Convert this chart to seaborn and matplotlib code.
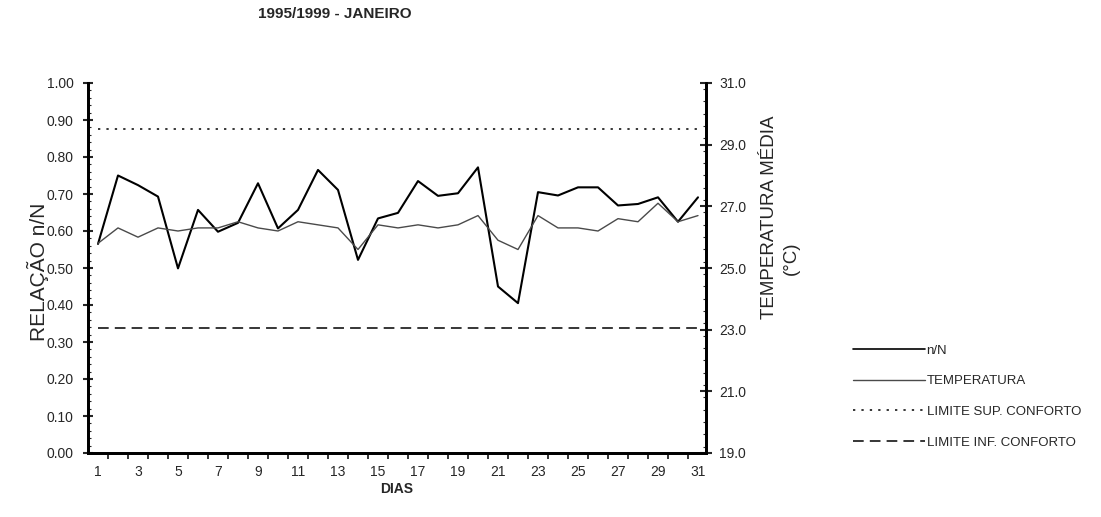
import matplotlib
matplotlib.use("Agg")
import matplotlib.pyplot as plt
from matplotlib.lines import Line2D
from matplotlib.ticker import MultipleLocator, FixedLocator
import seaborn as sns
import pandas as pd

# Dias do mês de janeiro
dias = list(range(1, 32))

# Relação n/N (insolação efetiva / insolação máxima) - média 1995/1999
relacao_nN = [0.565, 0.750, 0.724, 0.693, 0.499, 0.657, 0.598, 0.622, 0.729, 0.607,
              0.657, 0.765, 0.711, 0.522, 0.634, 0.649, 0.735, 0.695, 0.702, 0.772,
              0.450, 0.405, 0.705, 0.696, 0.718, 0.718, 0.669, 0.673, 0.691, 0.625,
              0.691]

# Temperatura média diária (°C)
temperatura = [25.8, 26.3, 26.0, 26.3, 26.2, 26.3, 26.3, 26.5, 26.3, 26.2,
               26.5, 26.4, 26.3, 25.6, 26.4, 26.3, 26.4, 26.3, 26.4, 26.7,
               25.9, 25.6, 26.7, 26.3, 26.3, 26.2, 26.6, 26.5, 27.1, 26.5,
               26.7]

# Limites da zona de conforto (°C)
limite_sup = [29.5] * 31
limite_inf = [23.05] * 31

x_ticks = [1, 3, 5, 7, 9, 11, 13, 15, 17, 19, 21, 23, 25, 27, 29, 31]
temp_ticks = [19.0, 21.0, 23.0, 25.0, 27.0, 29.0, 31.0]

df = pd.DataFrame({"dia": dias, "nN": relacao_nN, "temp": temperatura,
                   "sup": limite_sup, "inf": limite_inf})

sns.set_theme(style="white")
plt.rcParams["font.family"] = ["Liberation Sans", "DejaVu Sans"]

fig = plt.figure(figsize=(11.01, 5.17), dpi=100)
ax = fig.add_axes([88 / 1101, 1 - 453 / 517, (706 - 88) / 1101, (453 - 83) / 517])
ax2 = ax.twinx()

sns.lineplot(data=df, x="dia", y="nN", ax=ax, color="black", linewidth=1.5)
sns.lineplot(data=df, x="dia", y="temp", ax=ax2, color="#4a4a4a", linewidth=1.0)
sns.lineplot(data=df, x="dia", y="sup", ax=ax2, color="black", linewidth=1.1,
             linestyle=(0, (1.5, 4)))
sns.lineplot(data=df, x="dia", y="inf", ax=ax2, color="black", linewidth=1.1,
             linestyle=(0, (7, 4)))

ax.set_xlim(0.5, 31.4)
ax.set_ylim(0.0, 1.0)
ax2.set_ylim(19.0, 31.0)

ax.set_xticks(x_ticks)
ax.set_xticklabels([str(d) for d in x_ticks])
ax.xaxis.set_minor_locator(FixedLocator([d + 0.5 for d in range(1, 31)]))
ax.tick_params(axis="x", which="major", length=0, pad=9, labelsize=10)
ax.tick_params(axis="x", which="minor", direction="out", length=4, width=1.3,
               bottom=True)

ax.yaxis.set_major_locator(MultipleLocator(0.1))
ax.set_yticklabels([f"{v:.2f}" for v in ax.get_yticks()])
ax.yaxis.set_minor_locator(MultipleLocator(0.02))
ax.tick_params(axis="y", which="major", direction="inout", length=7, width=1.5,
               pad=7, labelsize=10, left=True)
ax.tick_params(axis="y", which="minor", direction="in", length=2, width=0.8,
               left=True)

ax2.set_yticks(temp_ticks)
ax2.set_yticklabels([f"{v:.1f}" for v in temp_ticks])
ax2.yaxis.set_minor_locator(MultipleLocator(0.4))
ax2.tick_params(axis="y", which="major", direction="inout", length=9, width=1.5,
                pad=5, labelsize=10, right=True)
ax2.tick_params(axis="y", which="minor", direction="in", length=2, width=0.8,
                right=True)

for a in (ax, ax2):
    a.spines["top"].set_visible(False)
    for s in ("left", "right", "bottom"):
        a.spines[s].set_linewidth(2.0)
        a.spines[s].set_color("black")
    a.grid(False)

ax.set_xlabel("DIAS", fontsize=10, fontweight="bold", labelpad=2)
ax.set_ylabel("")
ax2.set_ylabel("")

fig.text(38 / 1101, 1 - 272 / 517, "RELAÇÃO n/N", rotation=90,
         ha="center", va="center", fontsize=15)
fig.text(769 / 1101, 1 - 217 / 517, "TEMPERATURA MÉDIA", rotation=90,
         ha="center", va="center", fontsize=13.5)
fig.text(791 / 1101, 1 - 258 / 517, "(°C)", rotation=90,
         ha="center", va="center", fontsize=13.5)

fig.text(335 / 1101, 1 - 14 / 517, "1995/1999 - JANEIRO", ha="center",
         va="center", fontsize=11, fontweight="bold")

handles = [
    Line2D([], [], color="black", linewidth=1.2),
    Line2D([], [], color="#4a4a4a", linewidth=1.0),
    Line2D([], [], color="black", linewidth=1.1, linestyle=(0, (1.5, 4))),
    Line2D([], [], color="black", linewidth=1.1, linestyle=(0, (7, 4))),
]
labels = ["n/N", "TEMPERATURA", "LIMITE SUP. CONFORTO", "LIMITE INF. CONFORTO"]
fig.legend(handles, labels, loc="upper left",
           bbox_to_anchor=(848 / 1101, 1 - 339 / 517), frameon=False,
           fontsize=9.5, handlelength=5.4, handletextpad=0.15,
           labelspacing=1.4, borderaxespad=0)

fig.savefig("out.png", dpi=100)
